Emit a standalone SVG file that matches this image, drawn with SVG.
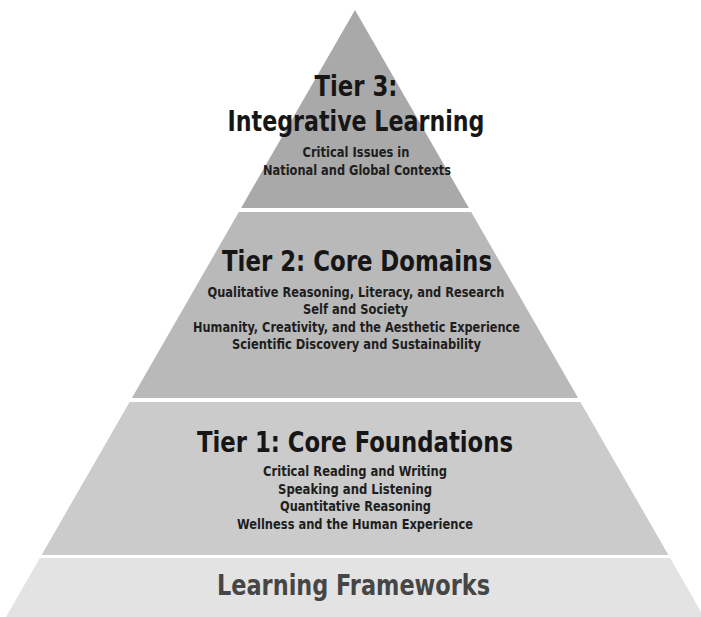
<svg xmlns="http://www.w3.org/2000/svg" width="701" height="617" viewBox="0 0 701 617">
  <style>
    .title { font-family: "Liberation Sans Narrow", "DejaVu Sans Condensed", "Liberation Sans", sans-serif; font-size: 28px; font-weight: bold; fill: #161616; text-anchor: middle; }
    .sub { font-family: "Liberation Sans Narrow", "DejaVu Sans Condensed", "Liberation Sans", sans-serif; font-size: 13.5px; font-weight: bold; fill: #1e1e1e; text-anchor: middle; }
    .base { font-family: "Liberation Sans Narrow", "DejaVu Sans Condensed", "Liberation Sans", sans-serif; font-size: 28px; font-weight: bold; fill: #464646; text-anchor: middle; }
  </style>
  <rect x="0" y="0" width="701" height="617" fill="#ffffff"/>
  <g id="tier3">
    <polygon points="355,10 468.9,208 241.1,208" fill="#a9a9a9"/>
    <text class="title" x="356" y="96" textLength="83" lengthAdjust="spacingAndGlyphs">Tier 3:</text>
    <text class="title" x="356" y="131" textLength="257" lengthAdjust="spacingAndGlyphs">Integrative Learning</text>
    <text class="sub" x="356" y="157" textLength="107" lengthAdjust="spacingAndGlyphs">Critical Issues in</text>
    <text class="sub" x="357" y="175" textLength="188" lengthAdjust="spacingAndGlyphs">National and Global Contexts</text>
  </g>
  <g id="tier2">
    <polygon points="238.8,212 471.2,212 578.1,398 131.9,398" fill="#b9b9b9"/>
    <text class="title" x="357" y="271" textLength="270" lengthAdjust="spacingAndGlyphs">Tier 2: Core Domains</text>
    <text class="sub" x="356" y="297" textLength="297" lengthAdjust="spacingAndGlyphs">Qualitative Reasoning, Literacy, and Research</text>
    <text class="sub" x="355.5" y="314" textLength="105" lengthAdjust="spacingAndGlyphs">Self and Society</text>
    <text class="sub" x="356.5" y="331.5" textLength="327" lengthAdjust="spacingAndGlyphs">Humanity, Creativity, and the Aesthetic Experience</text>
    <text class="sub" x="356.5" y="349" textLength="249" lengthAdjust="spacingAndGlyphs">Scientific Discovery and Sustainability</text>
  </g>
  <g id="tier1">
    <polygon points="129.6,402 580.4,402 668.4,555 41.6,555" fill="#cbcbcb"/>
    <text class="title" x="355" y="452" textLength="316" lengthAdjust="spacingAndGlyphs">Tier 1: Core Foundations</text>
    <text class="sub" x="355" y="476" textLength="184" lengthAdjust="spacingAndGlyphs">Critical Reading and Writing</text>
    <text class="sub" x="355" y="493.5" textLength="154" lengthAdjust="spacingAndGlyphs">Speaking and Listening</text>
    <text class="sub" x="355.5" y="511" textLength="151" lengthAdjust="spacingAndGlyphs">Quantitative Reasoning</text>
    <text class="sub" x="355" y="528.5" textLength="236" lengthAdjust="spacingAndGlyphs">Wellness and the Human Experience</text>
  </g>
  <g id="learning-frameworks">
    <polygon points="39.9,558 670.1,558 704,617 6,617" fill="#e3e3e3"/>
    <text class="base" x="353.5" y="595" textLength="273" lengthAdjust="spacingAndGlyphs">Learning Frameworks</text>
  </g>
</svg>
